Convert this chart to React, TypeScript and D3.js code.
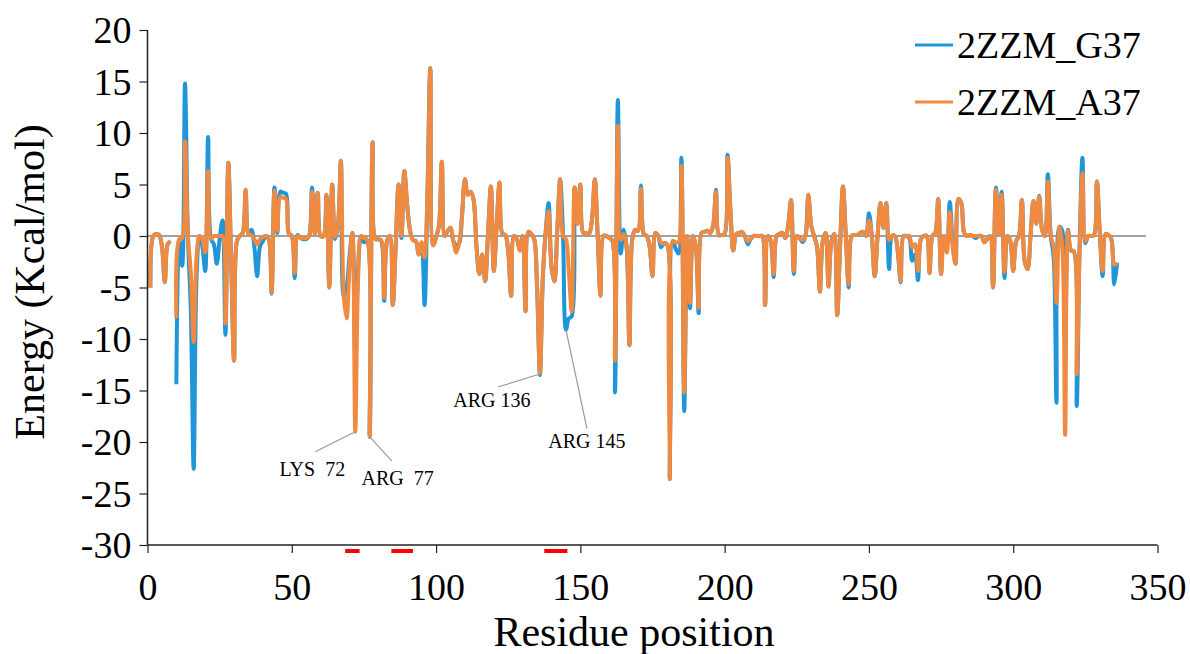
import React, { useEffect, useRef } from "react";
import * as d3 from "d3";

// binding energy per residue, residues 1..336 (residue 9 missing)
const g37 = [
  -5.0, 0, 0.2, 0.1, -1.0, -4.5, -0.8, -0.5, null, -14.4,
  -0.6, -2.9, 14.8, 0, -7, -22.6, -4, 0, -1.0, -3.4,
  9.6, -0.3, -0.8, -2.7, -0.3, 1.5, -9.6, 7.1, -2.5, -12.1,
  -0.5, 0, 0.3, 4.5, 0.2, 0.6, -1.0, -3.9, -1.0, -0.5,
  0, -0.3, -5.6, 4.7, 0.3, 4.3, 4.2, 4.1, 0.2, 0,
  -4.1, 0.1, -0.2, -0.3, -0.3, 0, 4.7, 0.2, 4.2, 0,
  0, 4.0, -5.0, 5.0, -0.3, 1, 7.3, -5.9, -5.0, -2.0,
  0.3, -11.6, -3, 0, -0.6, -0.5, -19.5, 9.1, -0.3, -0.3,
  -0.5, -6.3, -0.5, 0, -6.7, -1, 5.0, -0.2, 6.3, 3.0,
  0.5, -0.4, -0.5, -1.8, -0.8, -6.7, 4, 16.3, -0.9, -0.1,
  1, 7.2, 0, 0.5, 0.8, -0.5, -0.9, -0.7, 2, 5.5,
  4.0, 4.3, 3.5, -1, -3.7, -1.8, -4.4, 0.2, 4.8, -3.4,
  1, 5.2, 0.2, 0.1, -1.5, -5.8, 0, -0.3, -1.4, 0,
  -7.3, 0.4, 0.2, -0.3, -5, -13.5, -4, 0.5, 3.2, -3.0,
  -4.4, 0.5, 5.5, 0, -9.1, -8.0, -7.8, 4.7, 1.2, 5.0,
  0.3, 0.3, 0.2, 1.5, 5.5, 0, -5.8, 0, 0, -0.2,
  -0.4, -15.2, 13.2, -1.7, 0.6, -1, -10.6, -0.3, 0.6, 0.5,
  4.9, 0.2, 0, -1.0, -3.9, 0.3, 0, -1.1, -0.7, -0.8,
  -23.6, -0.5, -1.2, -1.7, 7.6, -17.0, 0, -7.0, 0, -1,
  -7.5, 0.3, 0.4, 0.5, 0.3, 1, 4.5, 0.1, 0.1, 0.2,
  7.9, 2.5, -1.4, 0.2, 0.3, 0.4, 0, -0.8, -0.3, 0,
  0, 0, 0, -6.7, 0, -0.5, -4.0, 0, 0.2, 0.3,
  -0.2, 1.0, 3.5, -3.7, 0, -0.2, -0.6, 0, 4.0, 1.0,
  0, -1, -5.4, -0.5, 0.3, -4.9, -0.5, 0.2, -7.7, -1,
  4.8, 0, -5.0, 0, 0.1, 0.1, 0.3, 0.4, 0, 2.2,
  0, -3.9, 0, 3.2, 0.8, 3.2, -3.2, 0, 0, -1.5,
  -4.5, 0, 0, -0.2, -2.4, -1.8, -4.3, -0.3, 0, 0,
  -3.6, 0, 0.3, 3.6, -3.7, 0, -0.3, 3.3, -0.5, -2.7,
  3.6, 3.2, 0.3, 0, 0.1, 0, -0.2, 0, 0, -0.6,
  -0.3, 0, -5.0, 4.7, 0.2, 4.3, -4.1, 0, -0.5, -3.4,
  -0.5, 0, 3.5, -2.5, -3.2, 0, 3.4, 1.2, 3.9, 0.6,
  0, 6.0, 0, -2, -16.2, 0.9, 0.5, -10.0, 0.6, -1.4,
  -1.5, -16.5, -1.0, 7.6, -0.7, 0, 0, 0.1, 5.3, 0.3,
  -3.9, 0.2, 0.1, -0.3, -4.7, -2.6,
];

const a37 = [
  -5.0, 0, 0.2, 0.1, -1.0, -4.5, -0.8, -0.5, null, -8.0,
  -0.3, -0.2, 9.2, 0, -3.5, -10.3, -2, 0, -0.3, -1.6,
  6.3, -0.3, 0, 0, 0, 0, -8.5, 7.1, -2.5, -12.1,
  -0.5, 0, 0.3, 4.5, 0.2, 0.1, -0.3, -0.8, -0.3, -0.1,
  0, -0.3, -5.5, 4.4, 0.5, 3.8, 3.7, 3.6, 0.2, 0,
  -3.6, 0, -0.2, -0.2, -0.2, 0, 4.3, 0.2, 4.2, 0,
  0, 4.0, -5.0, 5.0, -0.1, 1, 7.3, -5.7, -8.0, -3.0,
  0.3, -19.0, -4, 0, -0.2, -0.3, -19.5, 9.1, -0.3, -0.3,
  -0.4, -6.0, -0.5, 0, -6.7, -1, 5.0, 0, 6.3, 3.0,
  0.5, -0.4, -0.5, -1.8, -0.6, -2.1, 4, 16.3, -0.9, -0.1,
  1, 7.2, 0, 0.5, 0.8, -0.5, -1.6, -0.7, 2, 5.5,
  4.0, 4.3, 3.5, -1, -3.7, -1.8, -4.4, 0.2, 4.8, -3.4,
  1, 5.2, 0.2, 0.1, -1.5, -5.8, 0, -0.3, -1.4, 0,
  -7.3, 0.4, 0.2, -0.3, -5, -13.3, -4, 0.3, 2.4, -3.0,
  -4.4, 0.5, 5.5, 0, -0.3, -3.5, -7.3, 4.7, 1.2, 5.0,
  0.3, 0.3, 0.2, 1.5, 5.5, 0, -5.8, 0, 0, -0.2,
  -0.4, -12.1, 10.7, -0.4, 0.2, -1, -10.6, -0.3, 0.6, 0.5,
  4.6, 0.2, 0, -1.0, -3.9, 0.3, 0, -0.7, -0.7, -0.8,
  -23.6, -0.5, -0.6, -0.6, 6.8, -15.2, 0, -6.5, 0, -1,
  -7.0, 0.3, 0.4, 0.5, 0.3, 1, 4.3, 0.1, 0.1, 0.2,
  7.6, 2.5, -1.4, 0.2, 0.3, 0.4, 0, -0.5, -0.3, 0,
  0, 0, 0, -6.7, 0, -0.5, -3.7, 0, 0.2, 0.3,
  -0.2, 1.0, 3.5, -3.4, 0, -0.2, -0.4, 0, 4.0, 1.0,
  0, -1, -5.4, -0.5, 0.3, -4.9, -0.5, 0.2, -7.7, -1,
  4.8, 0, -4.7, 0, 0.1, 0.1, 0.3, 0.4, 0, 1.5,
  0, -3.9, 0, 3.2, 0.8, 3.2, -0.4, 0, 0, -1.5,
  -4.4, 0, 0, 0, -1.1, -0.8, -3.4, -0.3, 0, 0,
  -3.6, 0, 0.3, 3.6, -3.7, 0, -1.6, 2.3, -1.0, -2.7,
  3.6, 3.2, 0.3, 0, 0.1, 0, 0, 0, 0, -0.6,
  -0.3, 0, -5.0, 4.5, 0.2, 4.0, -3.5, 0, -0.5, -3.4,
  -0.5, 0, 3.5, -2.5, -3.2, 0, 3.4, 1.2, 3.8, 0.6,
  0, 5.3, 0, -1, -6.5, 0.9, -1, -19.3, 0.5, -1.4,
  -1.5, -13.4, -1.5, 6.1, -0.5, 0, 0, 0.1, 5.3, 0.3,
  -3.4, 0.2, 0.1, -0.3, -2.8, -2.6,
];

const seriesNames = ["2ZZM_G37", "2ZZM_A37"];
const seriesColors = ["#1f96d8", "#f08a40"];
const xTicks = [0, 50, 100, 150, 200, 250, 300, 350];
const yTicks = [20, 15, 10, 5, 0, -5, -10, -15, -20, -25, -30];
const zeroLineEnd = 346;

// highlighted residue ranges under the axis
const regions = [
  [68.5, 73.5],
  [84.5, 92],
  [137.5, 145.5],
];

// labelled residues, with leader line end (lx, ly) and text offset (tx, ty) in px
const notes = [
  { label: "LYS  72", res: 72, val: -19.0, lx: -40, ly: 20, tx: -43, ty: 44 },
  { label: "ARG  77", res: 77, val: -19.5, lx: 22, ly: 24, tx: 28, ty: 48 },
  { label: "ARG 136", res: 136, val: -13.4, lx: -42, ly: 13, tx: -48, ty: 33 },
  { label: "ARG 145", res: 145, val: -9.1, lx: 21, ly: 99, tx: 21, ty: 118 },
];

const App = () => {
  const svgRef = useRef(null);

  useEffect(() => {
    const width = 1190;
    const height = 654;
    const font = "'Liberation Serif', 'Times New Roman', serif";

    const svg = d3.select(svgRef.current);
    svg.selectAll("*").remove();
    svg.attr("width", width).attr("height", height);

    const x = d3.scaleLinear().domain([0, 350]).range([147.5, 1157.5]);
    const y = d3.scaleLinear().domain([-30, 20]).range([545, 30]);

    svg
      .append("rect")
      .attr("width", width)
      .attr("height", height)
      .attr("fill", "#ffffff");

    // zero line
    svg
      .append("line")
      .attr("x1", x(0))
      .attr("x2", x(zeroLineEnd))
      .attr("y1", y(0))
      .attr("y2", y(0))
      .attr("stroke", "#444")
      .attr("stroke-width", 1.2);

    const line = d3
      .line()
      .defined((d) => d[1] != null)
      .x((d) => x(d[0]))
      .y((d) => y(d[1]))
      .curve(d3.curveCatmullRom.alpha(0.5));

    [g37, a37].forEach((vals, i) => {
      const pts = vals.map((v, k) => [k + 1, v]);
      svg
        .append("path")
        .attr("d", line(pts))
        .attr("fill", "none")
        .attr("stroke", seriesColors[i])
        .attr("stroke-width", 4)
        .attr("stroke-linejoin", "round");
    });

    // axes
    const fmt = (d) => String(d); // plain hyphen for negatives
    const xAxis = svg
      .append("g")
      .attr("transform", `translate(0,${y(-30)})`)
      .call(
        d3.axisBottom(x).tickValues(xTicks).tickFormat(fmt).tickSize(8).tickPadding(20)
      );
    const yAxis = svg
      .append("g")
      .attr("transform", `translate(${x(0)},0)`)
      .call(
        d3.axisLeft(y).tickValues(yTicks).tickFormat(fmt).tickSize(8).tickPadding(8)
      );

    [xAxis, yAxis].forEach((g) => {
      g.select(".domain").attr("stroke", "#222").attr("stroke-width", 1.5);
      g.selectAll(".tick line").attr("stroke", "#222").attr("stroke-width", 1.2);
      g.selectAll(".tick text")
        .attr("font-family", font)
        .attr("font-size", 38)
        .attr("fill", "#000");
    });
    xAxis.select(".domain").attr("d", `M${x(0)},0H${x(350)}`);
    yAxis.select(".domain").attr("d", `M0,${y(20)}V${y(-30)}`);
    yAxis.selectAll(".tick text").attr("dy", "0.34em");
    xAxis.selectAll(".tick text").attr("dy", "0.72em");

    // red region marks
    svg
      .selectAll(".region")
      .data(regions)
      .enter()
      .append("rect")
      .attr("x", (d) => x(d[0]))
      .attr("width", (d) => x(d[1]) - x(d[0]))
      .attr("y", y(-30) + 4)
      .attr("height", 4)
      .attr("fill", "#ff0000");

    // annotations
    notes.forEach((n) => {
      const px = x(n.res);
      const py = y(n.val);
      svg
        .append("line")
        .attr("x1", px)
        .attr("y1", py)
        .attr("x2", px + n.lx)
        .attr("y2", py + n.ly)
        .attr("stroke", "#9a9a9a")
        .attr("stroke-width", 1.2);
      svg
        .append("text")
        .attr("x", px + n.tx)
        .attr("y", py + n.ty)
        .attr("text-anchor", "middle")
        .attr("font-family", font)
        .attr("font-size", 20)
        .style("white-space", "pre")
        .text(n.label);
    });

    // axis titles
    svg
      .append("text")
      .attr("x", 634)
      .attr("y", 646)
      .attr("text-anchor", "middle")
      .attr("font-family", font)
      .attr("font-size", 42)
      .text("Residue position");
    svg
      .append("text")
      .attr("transform", "translate(44,282) rotate(-90)")
      .attr("text-anchor", "middle")
      .attr("font-family", font)
      .attr("font-size", 42)
      .text("Energy (Kcal/mol)");

    // legend
    seriesNames.forEach((name, i) => {
      const ly = 45 + i * 57;
      svg
        .append("line")
        .attr("x1", 915)
        .attr("x2", 953)
        .attr("y1", ly)
        .attr("y2", ly)
        .attr("stroke", seriesColors[i])
        .attr("stroke-width", 3);
      svg
        .append("text")
        .attr("x", 957)
        .attr("y", ly + 13)
        .attr("font-family", font)
        .attr("font-size", 38)
        .text(name);
    });
  }, []);

  return (
    <svg
      ref={svgRef}
      style={{ position: "absolute", left: 0, top: 0, display: "block" }}
    ></svg>
  );
};

export default App;
